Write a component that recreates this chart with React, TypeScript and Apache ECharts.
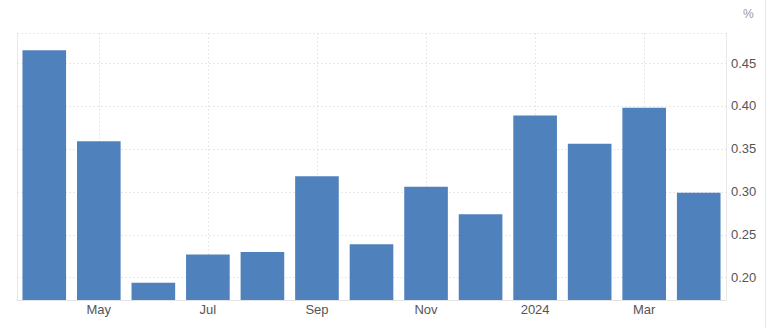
import React, { useEffect, useRef } from 'react';
import * as echarts from 'echarts';

const categories = [
  'Apr 2023', 'May 2023', 'Jun 2023', 'Jul 2023', 'Aug 2023', 'Sep 2023', 'Oct 2023',
  'Nov 2023', 'Dec 2023', 'Jan 2024', 'Feb 2024', 'Mar 2024', 'Apr 2024',
];
const tickLabels = ['', 'May', '', 'Jul', '', 'Sep', '', 'Nov', '', '2024', '', 'Mar', ''];
const values = [0.465, 0.359, 0.194, 0.227, 0.23, 0.318, 0.239, 0.306, 0.274, 0.389, 0.356, 0.398, 0.299];
const yTicks = [0.2, 0.25, 0.3, 0.35, 0.4, 0.45];
const unitLabel = '%';

export default function App() {
  const ref = useRef<HTMLDivElement>(null);
  useEffect(() => {
    if (!ref.current) return;
    const chart = echarts.init(ref.current, undefined, { renderer: 'svg' });
    const font = 'Arial, "Liberation Sans", sans-serif';
    chart.setOption({
      animation: false,
      backgroundColor: '#ffffff',
      grid: { left: 17, right: 42, top: 33, bottom: 28, containLabel: false },
      xAxis: {
        type: 'category',
        data: categories,
        boundaryGap: true,
        axisLine: { show: true, lineStyle: { color: '#e3e3e3', width: 1 } },
        axisTick: { show: false },
        axisLabel: {
          interval: 0,
          color: '#555555',
          fontSize: 13,
          fontFamily: font,
          margin: 3,
          formatter: (_v: string, i: number) => tickLabels[i],
        },
        splitLine: {
          show: true,
          alignWithLabel: true,
          interval: (i: number) => tickLabels[i] !== '',
          lineStyle: { color: '#e8e8e8', type: [2, 2], width: 1 },
        },
      },
      yAxis: [
        {
          type: 'value',
          position: 'right',
          min: 0.174,
          max: 0.485,
          splitNumber: 6,
          axisLine: { show: true, lineStyle: { color: '#e8e8e8', width: 1 } },
          axisTick: { show: false },
          axisLabel: {
            color: '#555555',
            fontSize: 13,
            fontFamily: font,
            margin: 5,
            formatter: (v: number) =>
              yTicks.some((t) => Math.abs(t - v) < 1e-6) ? v.toFixed(2) : '',
          },
          splitLine: { show: true, lineStyle: { color: '#e8e8e8', type: [2, 2], width: 1 } },
          name: unitLabel,
          nameLocation: 'end',
          nameGap: 13,
          nameTextStyle: { color: '#999999', fontSize: 12, fontFamily: font, align: 'left', padding: [0, 0, 0, 17] },
        },
        {
          type: 'value',
          position: 'left',
          min: 0.174,
          max: 0.485,
          axisLine: { show: true, lineStyle: { color: '#e8e8e8', width: 1 } },
          axisTick: { show: false },
          axisLabel: { show: false },
          splitLine: { show: false },
        },
      ],
      series: [
        {
          type: 'bar',
          data: values,
          yAxisIndex: 0,
          barCategoryGap: '20%',
          itemStyle: { color: '#4f81bd' },
        },
      ],
      graphic: [
        {
          type: 'line',
          shape: { x1: 765.5, y1: 0, x2: 765.5, y2: 328 },
          style: { stroke: '#e6e6e6', lineWidth: 1 },
        },
      ],
    });
    return () => chart.dispose();
  }, []);
  return (
    <div
      ref={ref}
      style={{ position: 'fixed', left: 0, top: 0, width: 768, height: 328 }}
    />
  );
}
